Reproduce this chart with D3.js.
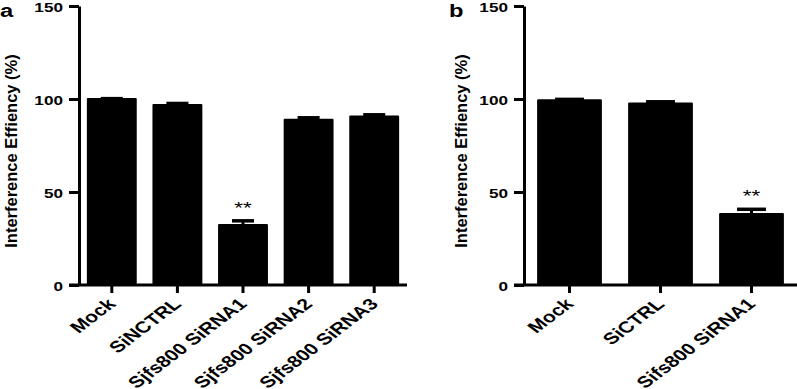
<!DOCTYPE html>
<html lang="en">
  <head>
    <meta charset="utf-8" />
    <title>Interference efficiency bar charts</title>
    <script src="https://cdn.jsdelivr.net/npm/d3@7"></script>
    <style type="text/css">
      body {
        margin: 0;
        background: #fff;
      }
      text {
        font-family: "Liberation Sans", Arial, sans-serif;
        fill: #000;
      }
      .axis path,
      .axis line {
        stroke: #000;
        stroke-width: 3;
      }
    </style>
  </head>
  <body>
    <div id="chart"></div>
    <script type="text/javascript">
      /*******************************************
       * data
       *******************************************/

      const catsA = ["Mock", "SiNCTRL", "Sjfs800 SiRNA1", "Sjfs800 SiRNA2", "Sjfs800 SiRNA3"];
      const valsA = [100, 96.8, 32.3, 88.8, 90.6];
      const errA = [0.2, 0.8, 2.2, 1.1, 0.9];
      const sigA = ["", "", "**", "", ""];

      const catsB = ["Mock", "SiCTRL", "Sifs800 SiRNA1"];
      const valsB = [99.3, 97.6, 38.2];
      const errB = [0.5, 0.9, 2.5];
      const sigB = ["", "", "**"];

      const yTicks = [0, 50, 100, 150];
      const yTitle = "Interference Effiency (%)";

      /*******************************************
       * svg
       *******************************************/

      const width = 797;
      const height = 389;
      const stretch = 1.32; // source figure is stretched horizontally

      const svg = d3
        .select("div#chart")
        .append("svg")
        .attr("width", width)
        .attr("height", height);

      const y0 = 285;
      const yTop = 6;

      function panel(opts) {
        const { cats, vals, errs, sigs, left, right, pad, letter, letterX, titleX } = opts;

        const xScale = d3.scaleBand().domain(cats).range([left, right]).paddingInner(pad).paddingOuter(pad / 2);
        const yScale = d3.scaleLinear().domain([0, 150]).range([y0, yTop]);

        // bars
        svg
          .append("g")
          .selectAll("rect")
          .data(vals)
          .enter()
          .append("rect")
          .attr("x", (d, i) => xScale(cats[i]))
          .attr("width", xScale.bandwidth())
          .attr("y", (d) => yScale(d))
          .attr("height", (d) => y0 - yScale(d))
          .attr("fill", "#000")
          .attr("stroke", "#000")
          .attr("stroke-width", 2)
          .attr("stroke-linejoin", "round");

        // error bars (upper only)
        const eb = svg.append("g").attr("stroke", "#000");
        vals.forEach((v, i) => {
          const cx = xScale(cats[i]) + xScale.bandwidth() / 2;
          const hw = xScale.bandwidth() * 0.23;
          eb.append("line")
            .attr("x1", cx).attr("x2", cx)
            .attr("y1", yScale(v)).attr("y2", yScale(v + errs[i]))
            .attr("stroke-width", 3);
          eb.append("line")
            .attr("x1", cx - hw).attr("x2", cx + hw)
            .attr("y1", yScale(v + errs[i])).attr("y2", yScale(v + errs[i]))
            .attr("stroke-width", 3.5);
          if (sigs[i]) {
            svg.append("text")
              .attr("transform", `translate(${cx},${yScale(v + errs[i]) - 7}) scale(${stretch},1)`)
              .attr("text-anchor", "middle")
              .style("font-size", "17px")
              .text(sigs[i]);
          }
        });

        // y axis
        const yAxis = d3.axisLeft(yScale).tickValues(yTicks).tickSize(10).tickSizeOuter(0);
        const gy = svg
          .append("g")
          .attr("class", "y axis")
          .attr("transform", `translate(${left}, 0)`)
          .call(yAxis);
        gy.selectAll("text")
          .attr("x", null)
          .attr("dy", null)
          .attr("transform", `translate(-16,5) scale(${stretch},1)`)
          .style("font-size", "13px")
          .style("font-weight", "bold");

        // x axis
        const xAxis = d3.axisBottom(xScale).tickSize(8).tickSizeOuter(0);
        const gx = svg
          .append("g")
          .attr("class", "x axis")
          .attr("transform", `translate(0, ${y0})`)
          .call(xAxis);
        gx.select(".domain").attr("d", `M${left - 10},0H${right}`);
        gx.selectAll("text")
          .attr("y", null)
          .attr("dy", null)
          .attr("text-anchor", "end")
          .attr("transform", `translate(5,20) scale(${stretch},1) rotate(-45)`)
          .style("font-size", "16px")
          .style("font-weight", "bold");

        // axis title
        svg
          .append("text")
          .attr("transform", `translate(${titleX},151) rotate(-90)`)
          .attr("text-anchor", "middle")
          .style("font-size", "16.5px")
          .style("font-weight", "bold")
          .text(yTitle);

        // panel letter
        svg
          .append("text")
          .attr("transform", `translate(${letterX},17) scale(${stretch},1)`)
          .style("font-size", "18px")
          .style("font-weight", "bold")
          .text(letter);
      }

      panel({ cats: catsA, vals: valsA, errs: errA, sigs: sigA, left: 79, right: 407, pad: 0.27, letter: "a", letterX: 0, titleX: 17 });
      panel({ cats: catsB, vals: valsB, errs: errB, sigs: sigB, left: 524, right: 797, pad: 0.31, letter: "b", letterX: 449, titleX: 467 });
    </script>
  </body>
</html>
